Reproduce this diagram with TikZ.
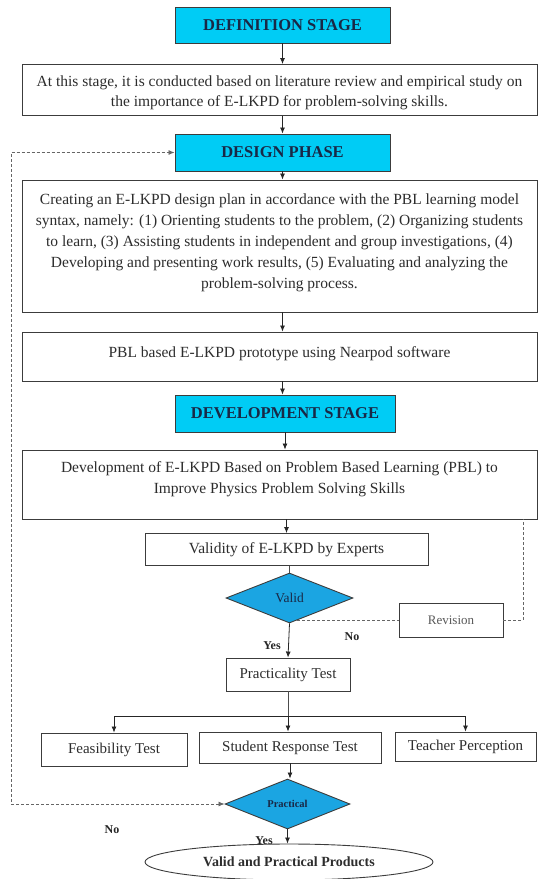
\documentclass[tikz,border=0pt]{standalone}
\usepackage{fontspec}
\setmainfont{Liberation Serif}
\usetikzlibrary{shapes.geometric,arrows.meta,calc}
\definecolor{headcyan}{RGB}{0,204,245}
\definecolor{diamblue}{RGB}{27,165,226}
\definecolor{navy}{RGB}{25,40,70}
\definecolor{textgray}{RGB}{45,45,45}
\definecolor{linegray}{RGB}{60,60,60}
\begin{document}
\begin{tikzpicture}[x=1pt,y=-1pt,
  box/.style={draw=linegray, line width=0.9pt, fill=white, inner sep=0pt},
  txt/.style={font=\fontsize{15.5}{20}\selectfont, text=textgray, align=center, inner sep=0pt},
  head/.style={box, fill=headcyan, font=\fontsize{16.5}{19}\selectfont\bfseries, text=navy},
  smallbox/.style={box, font=\fontsize{15}{18}\selectfont, text=textgray},
  decide/.style={diamond, draw=linegray, line width=0.9pt, fill=diamblue, inner sep=0pt, text=navy},
  arr/.style={-{Latex[length=6pt,width=5pt]}, line width=0.8pt, draw=black!85},
  plain/.style={line width=0.8pt, draw=black!70},
  dashline/.style={dash pattern=on 3pt off 2pt, line width=0.8pt, draw=black!60},
  lbl/.style={font=\fontsize{12}{14}\selectfont\bfseries, text=black!85, inner sep=0pt}
]
\useasboundingbox (0,0) rectangle (538,879);

% nodes
\node[head, minimum width=215pt, minimum height=36pt] (def) at (282.5,25) {DEFINITION STAGE};
\node[box, minimum width=515pt, minimum height=51pt] (lit) at (279.5,90) {};
\node[txt, font=\fontsize{15.5}{19.5}\selectfont] (littext) at (279.5,93)
  {At this stage, it is conducted based on literature review and empirical study on\\
   the importance of E-LKPD for problem-solving skills.};
\node[head, minimum width=215pt, minimum height=37pt] (design) at (282.5,152.5) {DESIGN PHASE};
\node[box, minimum width=515pt, minimum height=132pt] (plan) at (279.5,246) {};
\node[txt, font=\fontsize{15.5}{21}\selectfont] (plantext) at (279.5,243)
  {Creating an E-LKPD design plan in accordance with the PBL learning model\\
   syntax, namely: (1) Orienting students to the problem, (2) Organizing students\\
   to learn, (3) Assisting students in independent and group investigations, (4)\\
   Developing and presenting work results, (5) Evaluating and analyzing the\\
   problem-solving process.};
\node[box, minimum width=515pt, minimum height=49pt] (proto) at (279.5,356.5) {};
\node[txt] (prototext) at (279.5,354) {PBL based E-LKPD prototype using Nearpod software};
\node[head, minimum width=220pt, minimum height=37pt] (dev) at (285,413.5) {DEVELOPMENT STAGE};
\node[box, minimum width=515pt, minimum height=69pt] (devbox) at (279.5,484.5) {};
\node[txt, font=\fontsize{15.5}{21}\selectfont] (devtext) at (279.5,479)
  {Development of E-LKPD Based on Problem Based Learning (PBL) to\\
   Improve Physics Problem Solving Skills};
\node[box, txt, minimum width=283pt, minimum height=32pt] (validity) at (286.5,549.5) {Validity of E-LKPD by Experts};
\node[decide, minimum width=127pt, minimum height=50pt, font=\fontsize{13.5}{15}\selectfont] (valid) at (289.5,598) {Valid};
\node[box, minimum width=104pt, minimum height=34pt, font=\fontsize{13}{15}\selectfont, text=black!65] (rev) at (451,620) {Revision};
\node[smallbox, minimum width=124pt, minimum height=33pt] (prac) at (288,674.5) {Practicality Test};
\node[smallbox, minimum width=146pt, minimum height=33pt] (feas) at (114,749.5) {Feasibility Test};
\node[smallbox, minimum width=182pt, minimum height=31pt] (student) at (290,747.5) {Student Response Test};
\node[smallbox, minimum width=141pt, minimum height=29pt] (teacher) at (465.5,746.5) {Teacher Perception};
\node[decide, minimum width=125pt, minimum height=50pt, font=\fontsize{10.5}{12}\selectfont\bfseries] (pd) at (287.5,804) {Practical};
\node[ellipse, draw=linegray, line width=0.9pt, fill=white, inner sep=0pt, minimum width=288pt, minimum height=36pt,
      font=\fontsize{14}{16}\selectfont\bfseries, text=textgray] (final) at (289,862) {Valid and Practical Products};

% labels
\node[lbl] (yes1) at (272,646) {Yes};
\node[lbl] (no1) at (352,637) {No};
\node[lbl] (no2) at (112,830) {No};
\node[lbl] (yes2) at (264,841) {Yes};

% main connectors
\draw[arr] (def.south) -- (def.south |- lit.north);
\draw[arr] (design.north |- lit.south) -- (design.north);
\draw[arr] (design.south) -- (design.south |- plan.north);
\draw[arr] (design.south |- plan.south) -- (design.south |- proto.north);
\draw[arr] (design.south |- proto.south) -- (design.south |- dev.north);
\draw[arr] (dev.south) -- (dev.south |- devbox.north);
\draw[arr] (validity.north |- devbox.south) -- (validity.north);
\draw[plain] (validity.south -| valid.north) -- (valid.north);
\draw[arr] (valid.south) -- (prac.north);
\coordinate (split) at (288,716);
\draw[plain] (prac.south) -- (split);
\draw[arr] (split) -| (feas.north);
\draw[arr] (split) -| (teacher.north);
\draw[arr] (split) -- (split |- student.north);
\draw[arr] (student.south) -- (student.south |- pd.north);
\draw[arr] (pd.south) -- (pd.south |- final.north);

% revision loop
\coordinate (vstart) at ($(valid.south)!0.12!(valid.east)$);
\draw[dashline] (vstart) -- (vstart -| rev.west);
\coordinate (rtop) at (523,519);
\draw[dashline] (vstart -| rev.east) -| (rtop);

% practical loop
\coordinate (lb) at (11,804);
\coordinate (lt) at (11,152.5);
\draw[dashline, {Latex[length=6pt,width=5pt]}-{Latex[length=6pt,width=5pt]}] (pd.west) -- (lb) -- (lt) -- (design.west);
\end{tikzpicture}
\end{document}
